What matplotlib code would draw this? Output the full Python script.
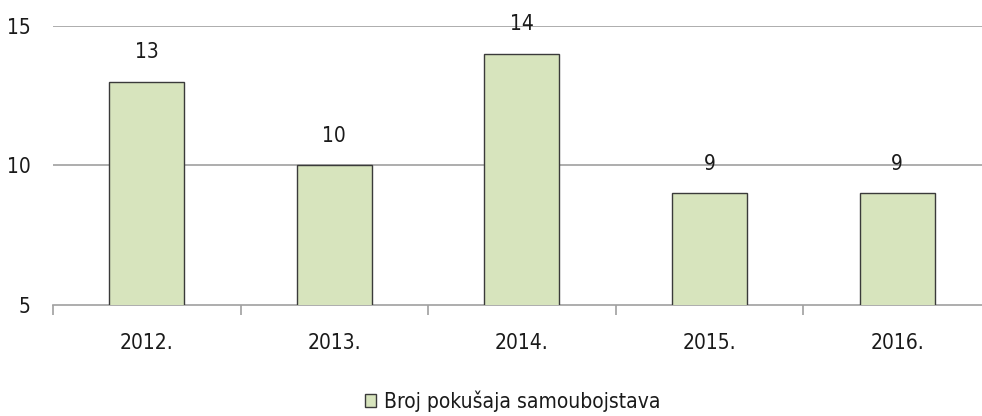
import matplotlib.pyplot as plt
from matplotlib.patches import Patch

# attempted suicides per year
years = ['2012.', '2013.', '2014.', '2015.', '2016.']
attempts = [13, 10, 14, 9, 9]
series_name = 'Broj pokušaja samoubojstava'
y_ticks = [5, 10, 15]

plt.rcParams['font.family'] = ['DejaVu Sans']
plt.rcParams['font.stretch'] = 'condensed'

fig = plt.figure(figsize=(9.82, 4.16), dpi=100)
ax = fig.add_axes([0.054, 0.267, 0.955, 0.671])

fill = '#D7E4BD'
edge = '#3a3a3a'
grid = '#a0a0a0'
txt = '#1a1a1a'

x = list(range(len(years)))
bars = ax.bar(x, attempts, width=0.4, color=fill, edgecolor=edge, linewidth=1.0, zorder=3)

for b, v in zip(bars, attempts):
    ax.annotate(str(v), (b.get_x() + b.get_width() / 2, v), xytext=(0, 14),
                textcoords='offset points', ha='center', va='bottom',
                fontsize=15, color=txt, zorder=4)

ax.set_xlim(-0.5, len(years) - 0.5)
ax.set_ylim(5, 15)
ax.set_yticks(y_ticks)
ax.set_yticklabels([str(t) for t in y_ticks], fontsize=15, color=txt)
ax.tick_params(axis='y', length=0, pad=16)

for t in y_ticks[1:]:
    ax.axhline(t, color=grid, linewidth=1.2, zorder=1)

# category ticks sit between bars
ax.set_xticks(x)
ax.set_xticklabels(years, fontsize=15, color=txt)
ax.tick_params(axis='x', length=0, pad=20)
ax.set_xticks([i - 0.5 for i in range(len(years) + 1)], minor=True)
ax.tick_params(axis='x', which='minor', length=7.5, color=grid, width=1.2, direction='out')

for s in ['top', 'right', 'left']:
    ax.spines[s].set_visible(False)
ax.spines['bottom'].set_color(grid)
ax.spines['bottom'].set_linewidth(1.2)

handle = Patch(facecolor=fill, edgecolor=edge, linewidth=1.0)
fig.legend([handle], [series_name], loc='lower center', bbox_to_anchor=(0.522, -0.035),
           frameon=False, fontsize=15, handlelength=0.55, handleheight=0.6,
           handletextpad=0.35, labelcolor=txt)

fig.savefig('out.png', dpi=100)
